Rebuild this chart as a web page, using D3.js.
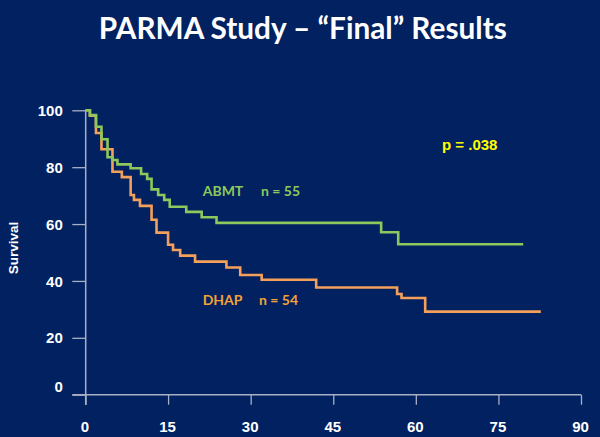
<!DOCTYPE html>
<html><head><meta charset="utf-8">
<script src="https://cdn.jsdelivr.net/npm/d3@7"></script>
<style>
html,body{margin:0;padding:0;background:#012161;}
svg{display:block;}
</style></head>
<body>
<svg id="c" width="600" height="437"></svg>
<script>
const title = "PARMA Study \u2013 \u201cFinal\u201d Results";
const xTicks = [0, 15, 30, 45, 60, 75, 90];
const yTicks = [0, 20, 40, 60, 80, 100];
const yLabel = "Survival";
const pText = "p = .038";

// ABMT: months and survival (%)
const abmtTime = [0, 0.8, 1.9, 2.9, 4.0, 4.9, 5.8, 8.2, 10.1, 11.2, 12.0, 13.2, 14.3, 15.3, 18.3, 21.1, 23.8, 53.7, 56.8, 79.5];
const abmtSurv = [100, 98.3, 94.2, 89.8, 83.5, 82.5, 81.0, 79.6, 77.6, 75.9, 72.2, 70.2, 68.5, 66.1, 64.3, 62.4, 60.4, 57.1, 52.9, 52.9];
// DHAP
const dhapTime = [0, 0.8, 1.9, 2.9, 4.9, 6.6, 8.2, 8.8, 9.9, 12.0, 12.9, 15.0, 15.9, 17.2, 19.9, 25.6, 28.1, 32.0, 41.9, 56.6, 57.4, 61.7, 82.7];
const dhapSurv = [100, 98.1, 92.0, 86.3, 78.4, 76.5, 70.2, 68.5, 66.4, 61.5, 57.0, 52.7, 50.9, 48.9, 46.8, 44.7, 42.1, 40.4, 37.7, 35.4, 34.0, 29.2, 29.2];

const seriesNames = ["ABMT", "DHAP"];
const seriesN = ["n = 55", "n = 54"];

const svg = d3.select("#c");
const x = d3.scaleLinear().domain([0, 90]).range([85.5, 581]);
const y = d3.scaleLinear().domain([0, 100]).range([394.7, 110.3]);
const axisCol = "#a9afc4";
const green = "#8ec75b", orange = "#f5a05a";

svg.append("text").attr("x", 302.8).attr("y", 38.5).attr("text-anchor", "middle")
  .attr("font-family", "Lato, 'Open Sans', sans-serif").attr("font-weight", 700)
  .attr("font-size", 31).attr("textLength", 408).attr("lengthAdjust", "spacingAndGlyphs")
  .attr("fill", "#ffffff").text(title);

// x axis
const gx = svg.append("g").attr("transform", "translate(0,394.7)")
  .call(d3.axisBottom(x).tickValues(xTicks).tickSize(10).tickPadding(17).tickFormat(d3.format("d")));
gx.select(".domain").remove();
gx.selectAll(".tick line").attr("stroke", axisCol).attr("stroke-width", 1.3);
gx.selectAll(".tick text").attr("fill", "#fff").attr("font-family", "'Liberation Sans', Arial, sans-serif")
  .attr("font-weight", 700).attr("font-size", 15).attr("dx", -1);
svg.append("line").attr("x1", 72.3).attr("x2", x(90)).attr("y1", 394.7).attr("y2", 394.7)
  .attr("stroke", axisCol).attr("stroke-width", 1.5);

// y axis
const gy = svg.append("g").attr("transform", "translate(85.7,0)")
  .call(d3.axisLeft(y).tickValues(yTicks).tickSize(13.4).tickPadding(9.5).tickFormat(d3.format("d")));
gy.select(".domain").remove();
gy.selectAll(".tick line").attr("stroke", axisCol).attr("stroke-width", 1.3);
gy.selectAll(".tick text").attr("fill", "#fff").attr("font-family", "'Liberation Sans', Arial, sans-serif")
  .attr("font-weight", 700).attr("font-size", 15)
  .attr("dy", d => d === 0 ? "-0.2em" : "0.34em");
svg.append("line").attr("x1", 85.7).attr("x2", 85.7).attr("y1", y(100)).attr("y2", 405)
  .attr("stroke", axisCol).attr("stroke-width", 1.5);

svg.append("text").attr("transform", "translate(18,248) rotate(-90)").attr("text-anchor", "middle")
  .attr("font-family", "'Liberation Sans', Arial, sans-serif").attr("font-weight", 700)
  .attr("font-size", 13.5).attr("fill", "#fff").text(yLabel);

const line = d3.line().x(d => x(d[0])).y(d => y(d[1])).curve(d3.curveStepAfter);
const abmt = abmtTime.map((t, i) => [t, abmtSurv[i]]);
const dhap = dhapTime.map((t, i) => [t, dhapSurv[i]]);

svg.append("path").datum(dhap).attr("d", line).attr("fill", "none")
  .attr("stroke", orange).attr("stroke-width", 2.6);
svg.append("path").datum(abmt).attr("d", line).attr("fill", "none")
  .attr("stroke", green).attr("stroke-width", 2.6);

const lf = "Lato, 'Open Sans', sans-serif";
function lab(txt, xx, yy, col) {
  svg.append("text").attr("x", xx).attr("y", yy).attr("font-family", lf).attr("font-weight", 700)
    .attr("font-size", 14).attr("fill", col).text(txt);
}
lab(seriesNames[0], 202.7, 196, "#8dc85c");
lab(seriesN[0], 261, 196, "#8dc85c");
lab(seriesNames[1], 202.7, 305, "#f2a236");
lab(seriesN[1], 259, 305, "#f2a236");

svg.append("text").attr("x", 442).attr("y", 150).attr("font-family", "'Liberation Sans', Arial, sans-serif")
  .attr("font-weight", 700).attr("font-size", 15).attr("fill", "#ffff00").text(pText);
</script>
</body></html>
